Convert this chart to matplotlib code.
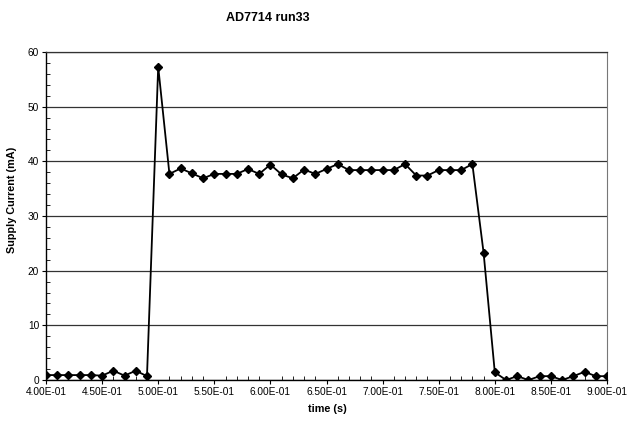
import matplotlib
matplotlib.use("Agg")
import matplotlib.pyplot as plt
from matplotlib.ticker import MultipleLocator, FuncFormatter

plt.rcParams['font.family'] = ['Liberation Sans', 'DejaVu Sans']

title = "AD7714 run33"
x_label = "time (s)"
y_label = "Supply Current (mA)"

time_s = [round(0.40 + 0.01 * i, 2) for i in range(51)]
current_ma = [
    0.9, 0.9, 0.9, 0.9, 0.9, 0.8, 1.7, 0.8, 1.7, 0.7,   # 0.40-0.49
    57.3, 37.7, 38.7, 37.8, 36.9, 37.7, 37.7, 37.7, 38.6, 37.7,  # 0.50-0.59
    39.4, 37.6, 36.9, 38.5, 37.7, 38.6, 39.5, 38.4, 38.4, 38.4,  # 0.60-0.69
    38.4, 38.4, 39.5, 37.4, 37.4, 38.4, 38.4, 38.4, 39.5, 23.3,  # 0.70-0.79
    1.4, 0.0, 0.7, 0.0, 0.7, 0.7, 0.0, 0.7, 1.5, 0.7,          # 0.80-0.89
    0.7,                                                        # 0.90
]

fig = plt.figure(figsize=(6.28, 4.25), dpi=100)
ax = fig.add_axes([46 / 628, 1 - 380 / 425, (607 - 46) / 628, (380 - 52) / 425])

ax.plot(time_s, current_ma, color='black', linewidth=1.3, marker='D',
        markersize=3.6, markerfacecolor='black', markeredgecolor='black', zorder=3)

ax.set_xlim(0.40, 0.90)
ax.set_ylim(0, 60)
ax.xaxis.set_major_locator(MultipleLocator(0.05))
ax.xaxis.set_minor_locator(MultipleLocator(0.01))
ax.yaxis.set_major_locator(MultipleLocator(10))
ax.yaxis.set_minor_locator(MultipleLocator(2))
ax.xaxis.set_major_formatter(FuncFormatter(lambda v, p: f"{v:.2E}"))
ax.yaxis.set_major_formatter(FuncFormatter(lambda v, p: f"{v:.0f}"))

ax.grid(axis='y', which='major', color='#333333', linewidth=0.9)
ax.set_axisbelow(True)

ax.tick_params(axis='both', which='major', direction='out', length=3, width=0.8,
               labelsize=7.3, colors='black', pad=2)
ax.tick_params(axis='both', which='minor', direction='in', length=3, width=0.6)

for side in ['left', 'bottom']:
    ax.spines[side].set_color('black')
    ax.spines[side].set_linewidth(1.0)
ax.spines['right'].set_color('#777777')
ax.spines['right'].set_linewidth(0.8)
ax.spines['top'].set_color('#333333')
ax.spines['top'].set_linewidth(0.9)

fig.text(268 / 628, 1 - 18 / 425, title, ha='center', va='center',
         fontsize=9, fontweight='bold')
fig.text(327 / 628, 1 - 409 / 425, x_label, ha='center', va='center',
         fontsize=7.8, fontweight='bold')
fig.text(12 / 628, 1 - 200 / 425, y_label, ha='center', va='center',
         rotation=90, fontsize=7.8, fontweight='bold')

fig.savefig("out.png", dpi=100)
